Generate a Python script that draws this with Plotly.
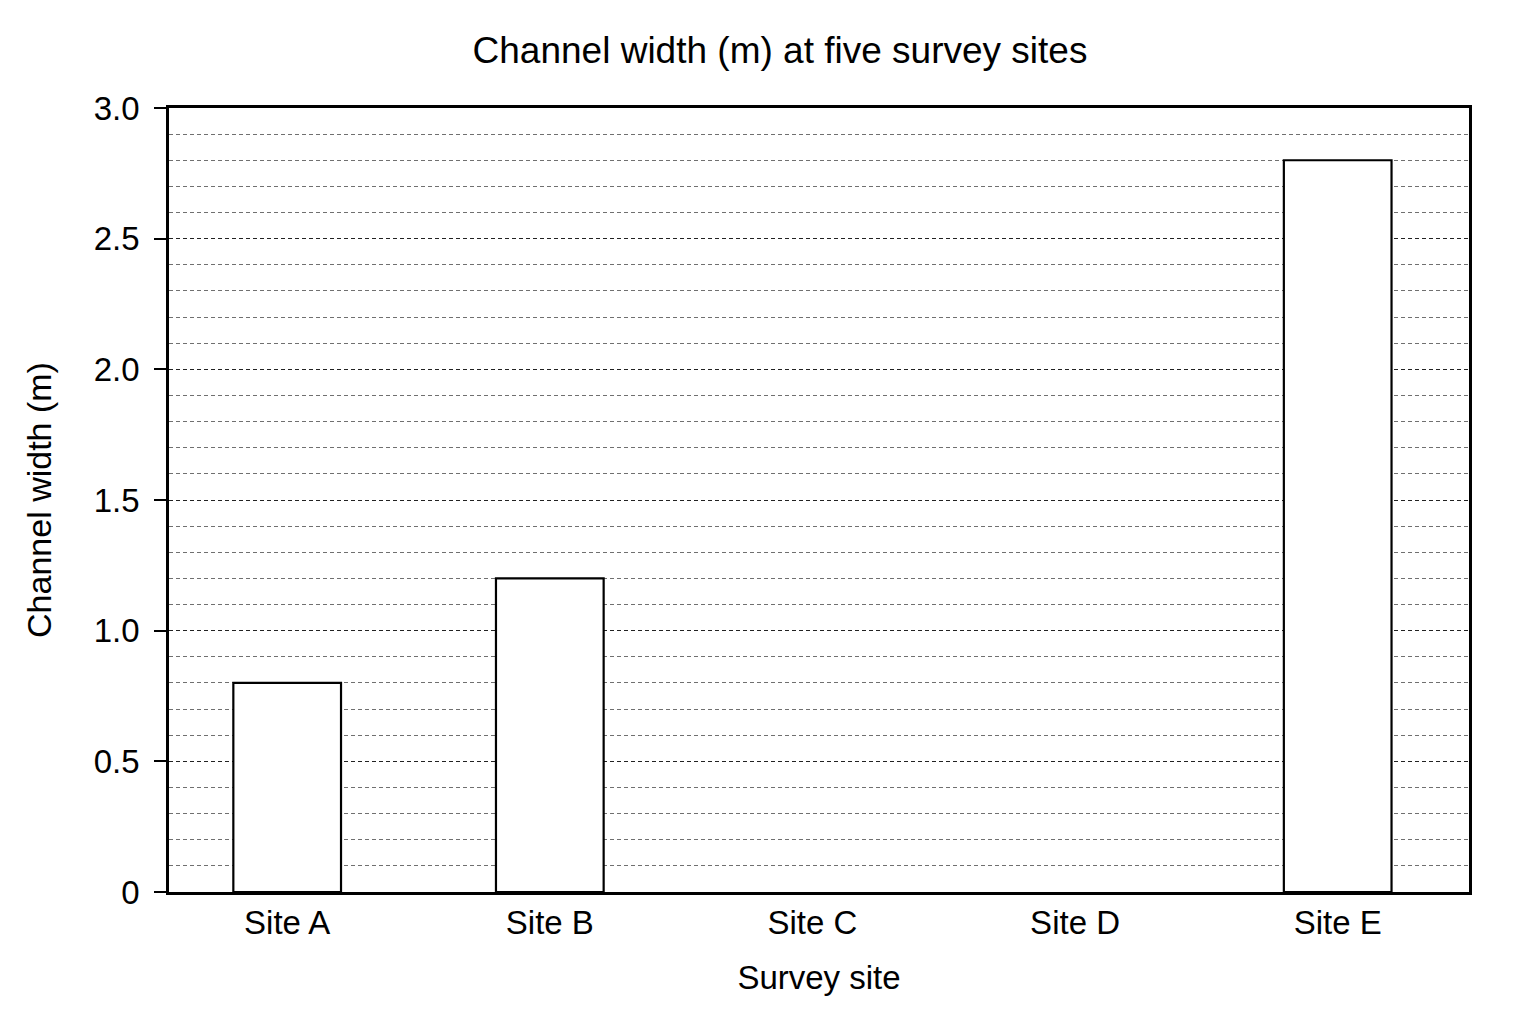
import plotly.graph_objects as go

# largeur du chenal par site
sites = ["Site A", "Site B", "Site C", "Site D", "Site E"]
largeur = [0.8, 1.2, None, None, 2.8]

# graduations de l'axe y
y_ticks = [0, 0.5, 1.0, 1.5, 2.0, 2.5, 3.0]
y_labels = ["0", "0.5", "1.0", "1.5", "2.0", "2.5", "3.0"]

police = "Liberation Sans, Arial, sans-serif"

fig = go.Figure()
fig.add_trace(go.Bar(
    x=sites,
    y=largeur,
    width=0.41,
    marker=dict(color="white", line=dict(color="black", width=2.2)),
    showlegend=False,
))

fig.update_layout(
    width=1536,
    height=1024,
    paper_bgcolor="white",
    plot_bgcolor="white",
    margin=dict(l=161, r=75, t=100, b=140),
    font=dict(family=police, size=33, color="black"),
    title=dict(text="Channel width (m) at five survey sites",
               x=0.5026, xanchor="center", y=0.959, yanchor="middle",
               font=dict(size=37)),
)

fig.update_xaxes(
    range=[-0.45, 4.5],
    showline=True, linecolor="black", linewidth=2.5, mirror=True,
    ticks="", showgrid=False,
    title=dict(text="Survey site", standoff=26, font=dict(size=33)),
)

fig.update_yaxes(
    range=[0, 3.0],
    tickmode="array", tickvals=y_ticks, ticktext=y_labels,
    ticks="outside", ticklen=12, tickwidth=2, tickcolor="black",
    ticklabelstandoff=8,
    showline=True, linecolor="black", linewidth=2.5, mirror=True,
    zeroline=False,
    showgrid=True, gridcolor="#222222", gridwidth=1, griddash="4px,3px",
    minor=dict(tickmode="linear", tick0=0, dtick=0.1, showgrid=True,
               gridcolor="#707070", gridwidth=1, griddash="4px,3px", ticks=""),
    title=dict(text="Channel width (m)", standoff=32, font=dict(size=34)),
)

fig.write_html("out.html")
print("out.html généré")
